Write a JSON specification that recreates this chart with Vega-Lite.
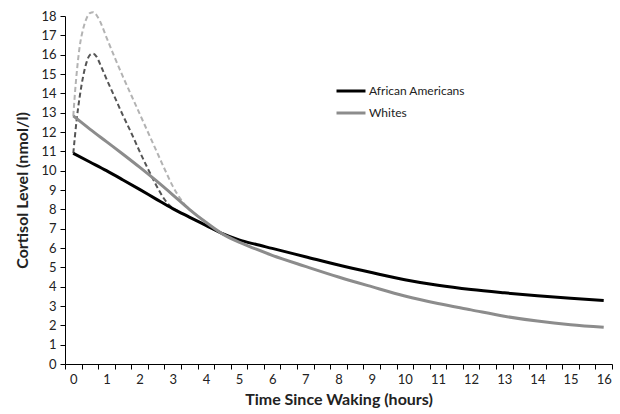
{
  "$schema": "https://vega.github.io/schema/vega-lite/v6.json",
  "width": 547,
  "height": 348,
  "autosize": "none",
  "padding": {"left": 65, "top": 16, "right": 8, "bottom": 50},
  "background": "white",
  "config": {
    "view": {"stroke": null},
    "font": "Lato",
    "axis": {
      "grid": false,
      "domainColor": "#000000",
      "domainWidth": 1,
      "tickColor": "#000000",
      "tickWidth": 1,
      "labelColor": "#222222",
      "titleColor": "#222222",
      "labelFont": "Lato",
      "titleFont": "Lato",
      "labelFontSize": 13,
      "titleFontSize": 16,
      "titleFontWeight": "bold"
    }
  },
  "datasets": {
    "main": [
      {"group": "African Americans", "t": 0, "v": 10.9},
      {"group": "African Americans", "t": 0.5, "v": 10.45},
      {"group": "African Americans", "t": 1, "v": 10.0},
      {"group": "African Americans", "t": 1.5, "v": 9.52},
      {"group": "African Americans", "t": 2, "v": 9.03},
      {"group": "African Americans", "t": 2.5, "v": 8.53},
      {"group": "African Americans", "t": 3, "v": 8.04},
      {"group": "African Americans", "t": 3.5, "v": 7.6},
      {"group": "African Americans", "t": 4, "v": 7.17},
      {"group": "African Americans", "t": 4.5, "v": 6.74},
      {"group": "African Americans", "t": 5, "v": 6.42},
      {"group": "African Americans", "t": 5.5, "v": 6.19},
      {"group": "African Americans", "t": 6, "v": 5.98},
      {"group": "African Americans", "t": 7, "v": 5.55},
      {"group": "African Americans", "t": 8, "v": 5.12},
      {"group": "African Americans", "t": 9, "v": 4.73},
      {"group": "African Americans", "t": 10, "v": 4.36},
      {"group": "African Americans", "t": 11, "v": 4.07},
      {"group": "African Americans", "t": 12, "v": 3.85},
      {"group": "African Americans", "t": 13, "v": 3.68},
      {"group": "African Americans", "t": 14, "v": 3.53},
      {"group": "African Americans", "t": 15, "v": 3.4},
      {"group": "African Americans", "t": 16, "v": 3.29},
      {"group": "Whites", "t": 0, "v": 12.83},
      {"group": "Whites", "t": 0.5, "v": 12.15},
      {"group": "Whites", "t": 1, "v": 11.5},
      {"group": "Whites", "t": 1.5, "v": 10.85},
      {"group": "Whites", "t": 2, "v": 10.18},
      {"group": "Whites", "t": 2.5, "v": 9.48},
      {"group": "Whites", "t": 3, "v": 8.75},
      {"group": "Whites", "t": 3.5, "v": 8.0},
      {"group": "Whites", "t": 4, "v": 7.33},
      {"group": "Whites", "t": 4.5, "v": 6.73},
      {"group": "Whites", "t": 5, "v": 6.3},
      {"group": "Whites", "t": 5.5, "v": 5.95},
      {"group": "Whites", "t": 6, "v": 5.62},
      {"group": "Whites", "t": 7, "v": 5.05},
      {"group": "Whites", "t": 8, "v": 4.5},
      {"group": "Whites", "t": 9, "v": 4.0},
      {"group": "Whites", "t": 10, "v": 3.52},
      {"group": "Whites", "t": 11, "v": 3.13},
      {"group": "Whites", "t": 12, "v": 2.8},
      {"group": "Whites", "t": 13, "v": 2.47},
      {"group": "Whites", "t": 14, "v": 2.22},
      {"group": "Whites", "t": 15, "v": 2.03},
      {"group": "Whites", "t": 16, "v": 1.9}
    ],
    "awake": [
      {"group": "African Americans", "t": 0, "v": 10.9},
      {"group": "African Americans", "t": 0.1, "v": 12.6},
      {"group": "African Americans", "t": 0.2, "v": 13.9},
      {"group": "African Americans", "t": 0.3, "v": 14.9},
      {"group": "African Americans", "t": 0.4, "v": 15.6},
      {"group": "African Americans", "t": 0.5, "v": 15.98},
      {"group": "African Americans", "t": 0.6, "v": 16.05},
      {"group": "African Americans", "t": 0.7, "v": 15.9},
      {"group": "African Americans", "t": 0.8, "v": 15.55},
      {"group": "African Americans", "t": 0.9, "v": 15.15},
      {"group": "African Americans", "t": 1.0, "v": 14.75},
      {"group": "African Americans", "t": 1.25, "v": 13.8},
      {"group": "African Americans", "t": 1.5, "v": 12.85},
      {"group": "African Americans", "t": 1.75, "v": 11.95},
      {"group": "African Americans", "t": 2.0, "v": 11.0},
      {"group": "African Americans", "t": 2.25, "v": 10.1},
      {"group": "African Americans", "t": 2.5, "v": 9.25},
      {"group": "African Americans", "t": 2.75, "v": 8.52},
      {"group": "African Americans", "t": 3.0, "v": 8.06},
      {"group": "African Americans", "t": 3.15, "v": 7.92},
      {"group": "Whites", "t": 0, "v": 12.83},
      {"group": "Whites", "t": 0.05, "v": 14.0},
      {"group": "Whites", "t": 0.1, "v": 15.0},
      {"group": "Whites", "t": 0.2, "v": 16.5},
      {"group": "Whites", "t": 0.3, "v": 17.35},
      {"group": "Whites", "t": 0.4, "v": 17.88},
      {"group": "Whites", "t": 0.5, "v": 18.15},
      {"group": "Whites", "t": 0.6, "v": 18.2},
      {"group": "Whites", "t": 0.7, "v": 18.05},
      {"group": "Whites", "t": 0.8, "v": 17.75},
      {"group": "Whites", "t": 1.0, "v": 16.9},
      {"group": "Whites", "t": 1.25, "v": 15.85},
      {"group": "Whites", "t": 1.5, "v": 14.85},
      {"group": "Whites", "t": 1.75, "v": 13.9},
      {"group": "Whites", "t": 2.0, "v": 12.95},
      {"group": "Whites", "t": 2.25, "v": 12.0},
      {"group": "Whites", "t": 2.5, "v": 11.05},
      {"group": "Whites", "t": 2.75, "v": 10.1},
      {"group": "Whites", "t": 3.0, "v": 9.2},
      {"group": "Whites", "t": 3.25, "v": 8.5},
      {"group": "Whites", "t": 3.5, "v": 8.0},
      {"group": "Whites", "t": 3.6, "v": 7.87}
    ]
  },
  "encoding": {
    "x": {
      "field": "t",
      "type": "quantitative",
      "scale": {"domain": [-0.25, 16.25], "nice": false, "zero": false},
      "axis": {
        "title": "Time Since Waking (hours)",
        "values": [-0.25, 0, 0.25, 0.75, 1, 1.25, 1.75, 2, 2.25, 2.75, 3, 3.25, 3.75, 4, 4.25, 4.75, 5, 5.25, 5.75, 6, 6.25, 6.75, 7, 7.25, 7.75, 8, 8.25, 8.75, 9, 9.25, 9.75, 10, 10.25, 10.75, 11, 11.25, 11.75, 12, 12.25, 12.75, 13, 13.25, 13.75, 14, 14.25, 14.75, 15, 15.25, 15.75, 16, 16.25],
        "labelExpr": "datum.value % 1 === 0 ? format(datum.value, 'd') : ''",
        "tickOpacity": {"condition": {"test": "datum.value % 1 !== 0", "value": 1}, "value": 0},
        "tickSize": 5,
        "labelPadding": 4,
        "labelOverlap": false,
        "labelBound": false,
        "labelFlush": false,
        "titlePadding": 5
      }
    },
    "y": {
      "field": "v",
      "type": "quantitative",
      "scale": {"domain": [0, 18], "nice": false},
      "axis": {
        "title": "Cortisol Level (nmol/l)",
        "values": [0, 1, 2, 3, 4, 5, 6, 7, 8, 9, 10, 11, 12, 13, 14, 15, 16, 17, 18],
        "tickSize": 5,
        "labelPadding": 4,
        "labelOverlap": false,
        "labelBound": false,
        "titlePadding": 10
      }
    }
  },
  "layer": [
    {
      "data": {"name": "awake"},
      "mark": {"type": "line", "strokeWidth": 2, "strokeDash": [5, 3], "interpolate": "monotone"},
      "encoding": {
        "color": {
          "field": "group",
          "type": "nominal",
          "scale": {"domain": ["African Americans", "Whites"], "range": ["#555555", "#b3b3b3"]},
          "legend": null
        }
      }
    },
    {
      "data": {"name": "main"},
      "mark": {"type": "line", "strokeWidth": 3, "interpolate": "monotone"},
      "encoding": {
        "color": {
          "field": "group",
          "type": "nominal",
          "scale": {"domain": ["African Americans", "Whites"], "range": ["#000000", "#8c8c8c"]},
          "legend": {
            "title": null,
            "orient": "none",
            "legendX": 270,
            "legendY": 59,
            "symbolType": "stroke",
            "symbolSize": 841,
            "symbolStrokeWidth": 3,
            "labelFont": "Lato",
            "labelFontSize": 12,
            "labelColor": "#222222",
            "labelOffset": 2,
            "rowPadding": -3
          }
        }
      }
    }
  ],
  "resolve": {"scale": {"color": "independent"}}
}
